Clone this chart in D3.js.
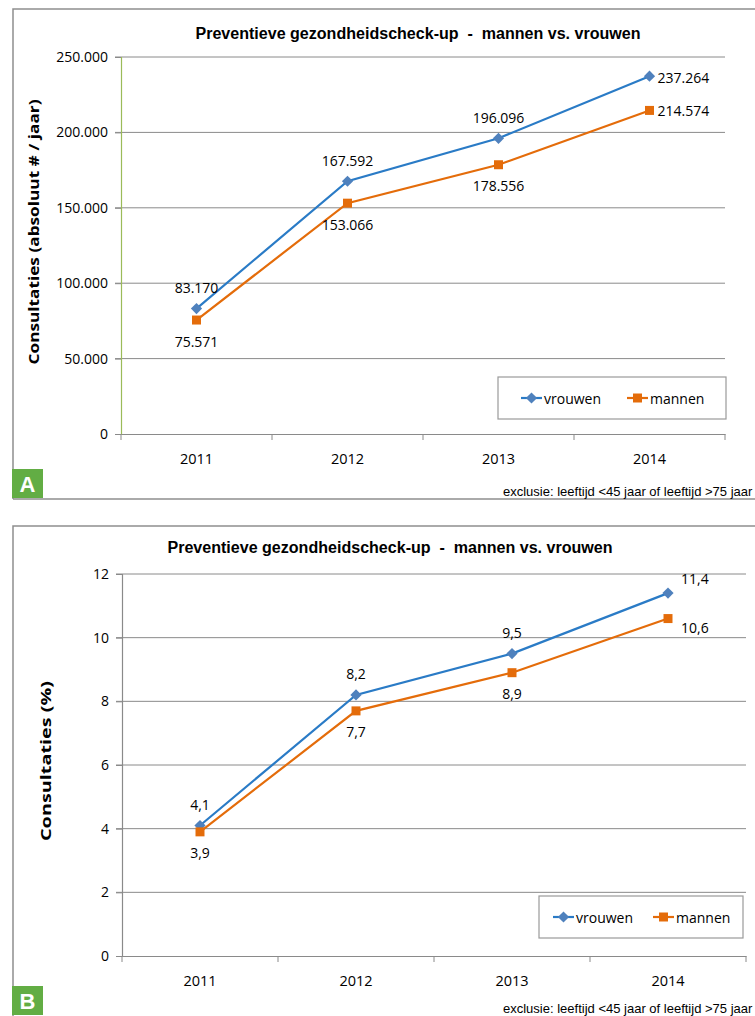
<!DOCTYPE html>
<html><head><meta charset="utf-8">
<script src="https://cdn.jsdelivr.net/npm/d3@7"></script>
<style>
html,body{margin:0;padding:0;background:#fff;overflow:hidden;}
svg{display:block;}
</style></head>
<body>
<svg id="c" width="755" height="1016"></svg>
<script>
// ---- data ----
const years = ["2011", "2012", "2013", "2014"];
const seriesNames = ["vrouwen", "mannen"];
const vrouwenAbs = [83170, 167592, 196096, 237264];
const mannenAbs = [75571, 153066, 178556, 214574];
const vrouwenPct = [4.1, 8.2, 9.5, 11.4];
const mannenPct = [3.9, 7.7, 8.9, 10.6];
const ticksAbs = [0, 50000, 100000, 150000, 200000, 250000];
const ticksPct = [0, 2, 4, 6, 8, 10, 12];
const chartTitle = "Preventieve gezondheidscheck-up  -  mannen vs. vrouwen";
const yTitleA = "Consultaties (absoluut # / jaar)";
const yTitleB = "Consultaties (%)";
const footnote = "exclusie: leeftijd <45 jaar of leeftijd >75 jaar";

const svg = d3.select("#c");
const BLUE_LINE = "#2a7bc6", BLUE_MK = "#4f81bd", ORANGE = "#e46c0a";
const GRID = "#8a8a8a", FRAME = "#8e8e8e";
const SANS = "'Open Sans', 'DejaVu Sans', sans-serif";
const NARROW = "'Liberation Sans Narrow', 'Liberation Sans', sans-serif";

const fmtAbs = d => d3.format(",")(d).replace(/,/g, ".");
const fmtPct = d => d3.format(".1f")(d).replace(".", ",");
const fmtTickAbs = d => d === 0 ? "0" : d3.format(",")(d).replace(/,/g, ".");
const fmtTickPct = d => String(d);

const diamondPath = "M0,-5.6L5.6,0L0,5.6L-5.6,0Z";
const squarePath = "M-4.5,-4.5H4.5V4.5H-4.5Z";

function drawChart(cfg) {
  const g = svg.append("g");
  g.append("path")
    .attr("d", `M${cfg.frame.x1},${cfg.frame.y2} V${cfg.frame.y1} H${cfg.frame.x2} ` + (cfg.frame.bottom ? `M${cfg.frame.x1},${cfg.frame.y2} H${cfg.frame.x2}` : ""))
    .attr("fill", "none").attr("stroke", FRAME).attr("stroke-width", 1.5);

  const x = d3.scaleBand().domain(years).range([cfg.plot.x1, cfg.plot.x2]).padding(0);
  const y = d3.scaleLinear().domain(cfg.domain).range([cfg.plot.y2, cfg.plot.y1]);
  const cx = d => x(d) + x.bandwidth() / 2;

  g.append("g").selectAll("line").data(cfg.ticks.filter(t => t !== 0)).join("line")
    .attr("x1", cfg.plot.x1 - 6).attr("x2", cfg.plot.x2)
    .attr("y1", d => y(d)).attr("y2", d => y(d))
    .attr("stroke", GRID).attr("stroke-width", 1);

  const yAxis = g.append("g").attr("transform", `translate(${cfg.plot.x1},0)`)
    .call(d3.axisLeft(y).tickValues(cfg.ticks).tickFormat(cfg.tickFmt).tickSize(6).tickPadding(7));
  yAxis.select(".domain").attr("stroke", cfg.yAxisColor).attr("stroke-width", 1.2);
  yAxis.selectAll(".tick line").attr("stroke", GRID);
  yAxis.selectAll("text").attr("font-family", SANS).attr("font-size", 14).attr("fill", "#000");

  const xAxis = g.append("g").attr("transform", `translate(0,${cfg.plot.y2})`)
    .call(d3.axisBottom(x).tickSize(0).tickPadding(20));
  xAxis.select(".domain").attr("stroke", GRID).attr("stroke-width", 1.2);
  xAxis.selectAll("text").attr("font-family", SANS).attr("font-size", 14.5).attr("fill", "#000");
  const bounds = years.map(d => x(d)).concat([cfg.plot.x2]);
  xAxis.append("g").selectAll("line").data(bounds).join("line")
    .attr("x1", d => d).attr("x2", d => d).attr("y1", 0).attr("y2", 6)
    .attr("stroke", GRID);

  g.append("text").attr("x", cfg.titleX).attr("y", cfg.titleY)
    .attr("text-anchor", "middle").attr("dominant-baseline", "central")
    .attr("font-family", NARROW).attr("font-weight", "bold").attr("font-size", 16)
    .attr("textLength", 445).attr("lengthAdjust", "spacingAndGlyphs")
    .attr("xml:space", "preserve")
    .text(chartTitle);

  g.append("text")
    .attr("transform", `translate(${cfg.yTitle.x},${cfg.yTitle.y}) rotate(-90)`)
    .attr("text-anchor", "middle").attr("dominant-baseline", "central")
    .attr("font-family", SANS).attr("font-weight", "bold").attr("font-size", 15)
    .attr("textLength", cfg.yTitle.len).attr("lengthAdjust", "spacingAndGlyphs")
    .text(cfg.yTitle.text);

  const series = [
    { name: seriesNames[0], vals: cfg.v, line: BLUE_LINE, mk: BLUE_MK, shape: diamondPath, side: -1 },
    { name: seriesNames[1], vals: cfg.m, line: ORANGE, mk: ORANGE, shape: squarePath, side: 1 }
  ];
  const line = d3.line().x((d, i) => cx(years[i])).y(d => y(d));
  series.forEach(s => {
    g.append("path").datum(s.vals).attr("d", line)
      .attr("fill", "none").attr("stroke", s.line).attr("stroke-width", 2.2);
    g.append("g").selectAll("path").data(s.vals).join("path")
      .attr("transform", (d, i) => `translate(${cx(years[i])},${y(d)})`)
      .attr("d", s.shape)
      .attr("fill", s.mk);
    g.append("g").selectAll("text").data(s.vals).join("text")
      .attr("x", (d, i) => i === years.length - 1 ? cx(years[i]) + cfg.lastDx : cx(years[i]))
      .attr("y", (d, i) => y(d) + (i === years.length - 1 ? (s.side < 0 ? cfg.lastDyUp : cfg.lastDyDown) : s.side * cfg.labelOff))
      .attr("text-anchor", (d, i) => i === years.length - 1 ? "start" : "middle")
      .attr("dominant-baseline", "central")
      .attr("font-family", SANS).attr("font-size", 14).attr("fill", "#000")
      .text(d => cfg.fmt(d));
  });

  const L = cfg.legend;
  const lg = g.append("g");
  lg.append("rect").attr("x", L.x).attr("y", L.y).attr("width", L.w).attr("height", L.h)
    .attr("fill", "#fff").attr("stroke", "#9a9a9a").attr("stroke-width", 1.2);
  series.forEach((s, k) => {
    const lx = L.x + L.items[k];
    const ly = L.y + L.h / 2;
    lg.append("line").attr("x1", lx).attr("x2", lx + 21).attr("y1", ly).attr("y2", ly)
      .attr("stroke", s.line).attr("stroke-width", 2.2);
    lg.append("path").attr("transform", `translate(${lx + 10.5},${ly})`)
      .attr("d", s.shape).attr("fill", s.mk);
    lg.append("text").attr("x", lx + 23).attr("y", ly).attr("dominant-baseline", "central")
      .attr("font-family", SANS).attr("font-size", 14).text(s.name);
  });

  g.append("rect").attr("x", cfg.badge.x).attr("y", cfg.badge.y).attr("width", 31).attr("height", 29)
    .attr("fill", "#62ad44");
  g.append("text").attr("x", cfg.badge.x + 15.5).attr("y", cfg.badge.y + 15)
    .attr("text-anchor", "middle").attr("dominant-baseline", "central")
    .attr("font-family", NARROW).attr("font-weight", "bold").attr("font-size", 22).attr("fill", "#fff")
    .text(cfg.badge.letter);

  g.append("text").attr("x", 503).attr("y", cfg.footY).attr("dominant-baseline", "central")
    .attr("font-family", NARROW).attr("font-size", 13).attr("fill", "#000")
    .text(footnote);
}

drawChart({
  frame: { x1: 13, y1: 9, x2: 770, y2: 499, bottom: true },
  plot: { x1: 121, x2: 725, y1: 57, y2: 434 },
  domain: [0, 250000], ticks: ticksAbs, tickFmt: fmtTickAbs, fmt: fmtAbs,
  v: vrouwenAbs, m: mannenAbs,
  yAxisColor: "#9bbb59",
  titleX: 418, titleY: 33,
  yTitle: { x: 33, y: 232, len: 265, text: yTitleA },
  labelOff: 21, lastDx: 8, lastDyUp: 1, lastDyDown: 0,
  legend: { x: 498, y: 377, w: 228, h: 42, items: [23, 129] },
  badge: { x: 12, y: 469, letter: "A" },
  footY: 491
});

drawChart({
  frame: { x1: 13, y1: 526, x2: 770, y2: 1030, bottom: false },
  plot: { x1: 122, x2: 746, y1: 574, y2: 956 },
  domain: [0, 12], ticks: ticksPct, tickFmt: fmtTickPct, fmt: fmtPct,
  v: vrouwenPct, m: mannenPct,
  yAxisColor: GRID,
  titleX: 390, titleY: 547,
  yTitle: { x: 45, y: 761, len: 160, text: yTitleB },
  labelOff: 21, lastDx: 13, lastDyUp: -15, lastDyDown: 9,
  legend: { x: 539, y: 896, w: 204, h: 42, items: [14, 114] },
  badge: { x: 12, y: 986, letter: "B" },
  footY: 1008
});
</script>
</body></html>
